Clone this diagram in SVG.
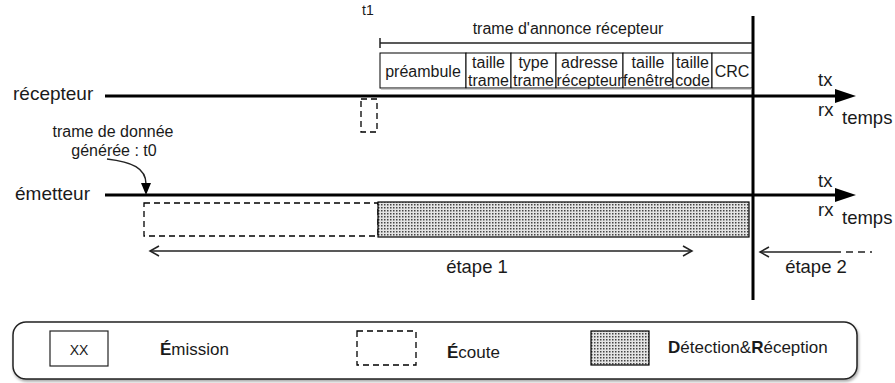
<svg xmlns="http://www.w3.org/2000/svg" width="895" height="383" viewBox="0 0 895 383">
<style>
text{font-family:"Liberation Sans",Arial,sans-serif;fill:#1a1a1a}
.big{font-size:19px}
.mid{font-size:18.5px}
.sm{font-size:16px}
.lg{font-size:17px}
.thick{stroke:#000;stroke-width:3;fill:none}
.thin{stroke:#222;stroke-width:1.5;fill:none}
.cell{fill:#fff;stroke:#000;stroke-width:1}
.dash{fill:#fff;stroke:#000;stroke-width:1.3;stroke-dasharray:6 4}
.shade{fill:url(#dots);stroke:#000;stroke-width:1.2}
</style>
<defs>
<pattern id="dots" width="3" height="3" patternUnits="userSpaceOnUse">
<rect width="3" height="3" fill="#e4e4e4"/>
<rect width="1.5" height="1.5" fill="#444"/>
</pattern>
<filter id="sh" x="-5%" y="-20%" width="110%" height="150%">
<feDropShadow dx="1" dy="2" stdDeviation="1.5" flood-color="#000" flood-opacity="0.35"/>
</filter>
</defs>

<g id="connectors">
<line class="thick" x1="105" y1="96" x2="838" y2="96"/>
<polygon points="835,89 856,96 835,103" fill="#000"/>
<line class="thick" x1="105" y1="195" x2="838" y2="195"/>
<polygon points="835,188 856,195 835,202" fill="#000"/>
<line class="thick" x1="753" y1="16" x2="753" y2="300"/>
<line class="thin" x1="380" y1="43" x2="752" y2="43"/>
<line class="thin" x1="380" y1="38" x2="380" y2="48"/>
<path class="thin" d="M107,159 C132,162 146,168 146,184"/>
<polygon points="141,183 151,183 146,195" fill="#000"/>
<line class="thin" x1="150" y1="251" x2="692" y2="251"/>
<polyline class="thin" points="159,246 150,251 159,256"/>
<polyline class="thin" points="683,246 692,251 683,256"/>
<line class="thin" x1="760" y1="252" x2="834" y2="252"/>
<line class="thin" x1="834" y1="252" x2="872" y2="252" stroke-dasharray="7 5"/>
<polyline class="thin" points="769,247 760,252 769,257"/>
</g>

<g id="labels">
<text class="big" x="13" y="100">récepteur</text>
<text class="big" x="15" y="200">émetteur</text>
<text class="mid" x="818" y="86">tx</text>
<text class="mid" x="818" y="116">rx</text>
<text class="mid" x="842" y="124">temps</text>
<text class="mid" x="818" y="187">tx</text>
<text class="mid" x="818" y="216">rx</text>
<text class="mid" x="842" y="224">temps</text>
<text x="362" y="15" style="font-size:14px">t1</text>
<text class="sm" x="568" y="34" text-anchor="middle">trame d'annonce récepteur</text>
<text class="sm" x="113" y="137" text-anchor="middle">trame de donnée</text>
<text class="sm" x="114" y="156" text-anchor="middle">générée : t0</text>
<text class="mid" x="477" y="273" text-anchor="middle">étape 1</text>
<text class="mid" x="816" y="273" text-anchor="middle">étape 2</text>
</g>

<g id="frame">
<rect class="cell" x="380" y="53" width="86" height="35"/>
<rect class="cell" x="466" y="53" width="45" height="35"/>
<rect class="cell" x="511" y="53" width="45" height="35"/>
<rect class="cell" x="556" y="53" width="67" height="35"/>
<rect class="cell" x="623" y="53" width="50" height="35"/>
<rect class="cell" x="673" y="53" width="39" height="35"/>
<rect class="cell" x="712" y="53" width="40" height="35"/>
<line x1="381" y1="89" x2="752" y2="89" stroke="#999" stroke-width="1.2"/>
<text class="sm" x="423" y="77" text-anchor="middle">préambule</text>
<text class="sm" x="488.5" y="68" text-anchor="middle">taille</text>
<text class="sm" x="488.5" y="86" text-anchor="middle">trame</text>
<text class="sm" x="533.5" y="68" text-anchor="middle">type</text>
<text class="sm" x="533.5" y="86" text-anchor="middle">trame</text>
<text class="sm" x="589.5" y="68" text-anchor="middle">adresse</text>
<text class="sm" x="589.5" y="86" text-anchor="middle" textLength="66" lengthAdjust="spacingAndGlyphs">récepteur</text>
<text class="sm" x="648" y="68" text-anchor="middle">taille</text>
<text class="sm" x="648" y="86" text-anchor="middle">fenêtre</text>
<text class="sm" x="692.5" y="68" text-anchor="middle">taille</text>
<text class="sm" x="692.5" y="86" text-anchor="middle">code</text>
<text class="sm" x="732" y="77" text-anchor="middle">CRC</text>
</g>

<g id="rx-listen">
<rect class="dash" x="361" y="99" width="16" height="33"/>
</g>
<g id="tx-listen">
<rect class="dash" x="144" y="203" width="234" height="33"/>
</g>
<g id="tx-detect">
<rect class="shade" x="378" y="202" width="371" height="35"/>
</g>

<g id="legend">
<rect x="13" y="322" width="844" height="57" rx="13" fill="#fff" stroke="#222" stroke-width="1.5" filter="url(#sh)"/>
<rect x="50" y="331" width="58" height="35" fill="#fff" stroke="#222" stroke-width="1.2"/>
<text x="79" y="355" text-anchor="middle" style="font-size:14px">XX</text>
<text class="lg" x="160" y="355"><tspan font-weight="bold">É</tspan>mission</text>
<rect class="dash" x="357" y="331" width="59" height="34"/>
<text class="lg" x="447" y="358"><tspan font-weight="bold">É</tspan>coute</text>
<rect class="shade" x="591" y="331" width="58" height="34"/>
<text class="lg" x="668" y="353"><tspan font-weight="bold">D</tspan>étection&amp;<tspan font-weight="bold">R</tspan>éception</text>
</g>
</svg>
